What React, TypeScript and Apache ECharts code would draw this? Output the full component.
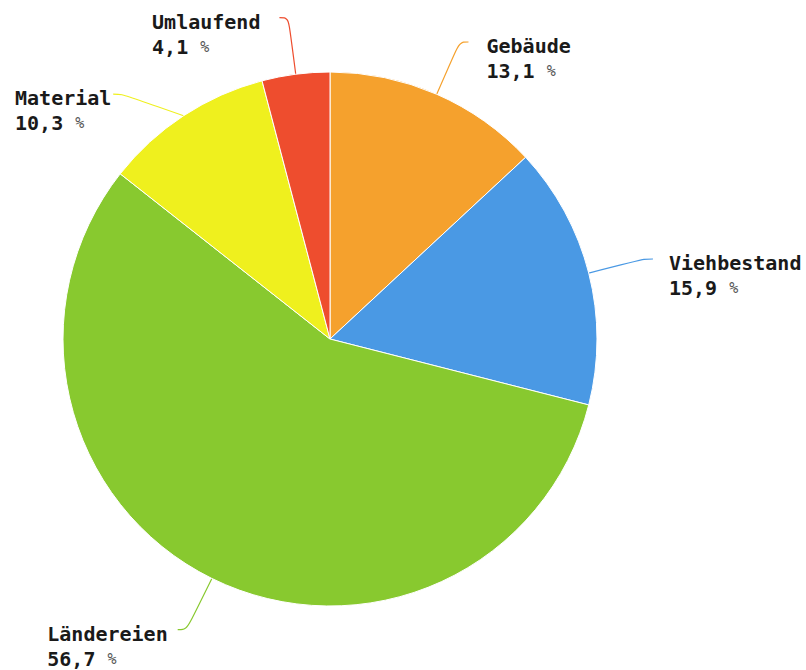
import React, { useEffect, useRef } from "react";
import * as echarts from "echarts";

const categories = ["Gebäude", "Viehbestand", "Ländereien", "Material", "Umlaufend"];
const values = [13.1, 15.9, 56.7, 10.3, 4.1];
const colors = ["#F5A12D", "#4A99E4", "#88C92F", "#EFF01E", "#EE4D2E"];
// extra horizontal gap between label line end and label text (px)
const labelGaps = [13, 11, 5, -3, 14];

const FONT = "DejaVu Sans Mono";

export default function App() {
  const ref = useRef<HTMLDivElement>(null);
  useEffect(() => {
    if (!ref.current) return;
    const chart = echarts.init(ref.current, null, { renderer: "svg" });
    const tok = { fontFamily: FONT, fontWeight: "bold", fontSize: 20, lineHeight: 25, color: "#1a1a1a", align: "left" };
    chart.setOption({
      animation: false,
      series: [
        {
          type: "pie",
          center: [322, 379],
          radius: 267,
          startAngle: 90,
          clockwise: true,
          data: categories.map((name, i) => ({
            name,
            value: values[i],
            itemStyle: { color: colors[i] },
            label: { padding: [27, labelGaps[i], -6, labelGaps[i]] },
          })),
          itemStyle: { borderColor: "#fff", borderWidth: 1 },
          label: {
            show: true,
            position: "outside",
            distanceToLabelLine: 5,
            overflow: "none",
            fontFamily: FONT,
            fontWeight: "bold",
            fontSize: 20,
            lineHeight: 25,
            color: "#1a1a1a",
            formatter: (p: any) =>
              `{n|${p.name}}\n{v|${String(p.value).replace(".", ",")} }{p|%}`,
            rich: {
              n: tok,
              v: tok,
              p: { ...tok, fontWeight: "normal", fontSize: 15, color: "#555" },
            },
          },
          labelLine: { show: true, length: 57, length2: 9, smooth: 0.4, lineStyle: { width: 1.2 } },
        },
      ],
    });
    return () => chart.dispose();
  }, []);
  return <div ref={ref} style={{ position: "absolute", left: 8, top: -40, width: 798, height: 718 }} />;
}
